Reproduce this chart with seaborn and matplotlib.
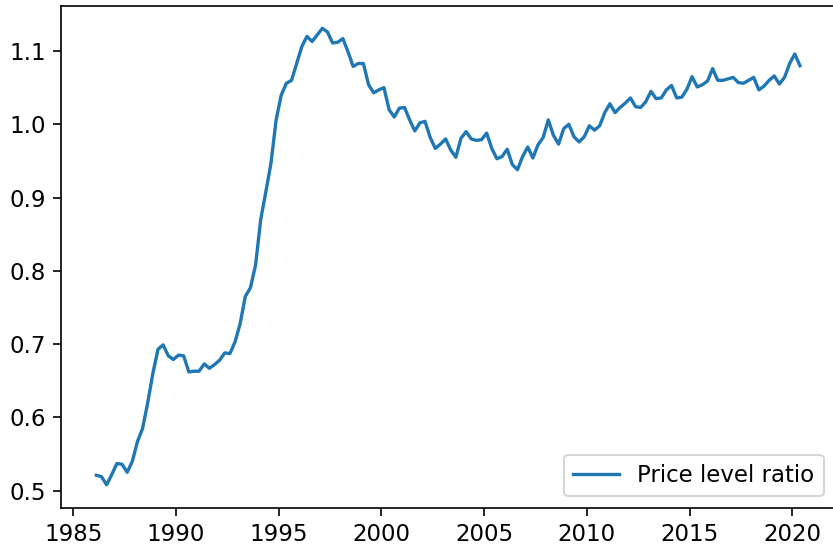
import numpy as np
import pandas as pd
import matplotlib
matplotlib.use("Agg")
import matplotlib.pyplot as plt
import seaborn as sns

# quarterly observations, 1986Q1 .. 2020Q2
quarters = pd.period_range("1986Q1", "2020Q2", freq="Q")
price_ratio = [
    0.521, 0.519, 0.508, 0.522, 0.537, 0.536, 0.525, 0.540,
    0.567, 0.585, 0.620, 0.660, 0.693, 0.699, 0.684, 0.679,
    0.685, 0.684, 0.662, 0.663, 0.663, 0.673, 0.667, 0.672,
    0.678, 0.688, 0.687, 0.703, 0.728, 0.765, 0.777, 0.808,
    0.870, 0.908, 0.947, 1.006, 1.040, 1.056, 1.060, 1.083,
    1.106, 1.120, 1.113, 1.122, 1.131, 1.126, 1.111, 1.112,
    1.117, 1.099, 1.079, 1.083, 1.083, 1.054, 1.043, 1.047,
    1.050, 1.020, 1.010, 1.022, 1.023, 1.006, 0.991, 1.002,
    1.004, 0.982, 0.967, 0.973, 0.980, 0.965, 0.955, 0.981,
    0.990, 0.980, 0.978, 0.979, 0.988, 0.967, 0.953, 0.956,
    0.966, 0.945, 0.938, 0.956, 0.969, 0.954, 0.972, 0.982,
    1.006, 0.985, 0.973, 0.994, 1.000, 0.983, 0.976, 0.983,
    0.998, 0.992, 0.998, 1.016, 1.028, 1.016, 1.023, 1.029,
    1.036, 1.024, 1.023, 1.031, 1.045, 1.035, 1.036, 1.047,
    1.053, 1.036, 1.037, 1.048, 1.065, 1.051, 1.054, 1.059,
    1.076, 1.060, 1.060, 1.062, 1.064, 1.057, 1.056, 1.060,
    1.064, 1.047, 1.052, 1.060, 1.066, 1.055, 1.064, 1.083,
    1.096, 1.080,
]

# mid-quarter decimal year
year = np.asarray(quarters.year) + (np.asarray(quarters.quarter) - 0.5) / 4
df = pd.DataFrame({"year": year, "ratio": price_ratio})

plt.rcParams["font.size"] = 11

fig = plt.figure(figsize=(834 / 150, 546 / 150), dpi=150)
ax = fig.add_axes([61.2 / 834, 38.4 / 546, 773.9 / 834, 502.1 / 546])

sns.lineplot(data=df, x="year", y="ratio", ax=ax, color="#1f77b4",
             linewidth=1.6, label="Price level ratio")
ax.set_xlabel("")
ax.set_ylabel("")
ax.set_xticks([1985, 1990, 1995, 2000, 2005, 2010, 2015, 2020])
ax.tick_params(length=3.8)
ax.legend(loc="lower right")

fig.savefig("out.png", dpi=150)
